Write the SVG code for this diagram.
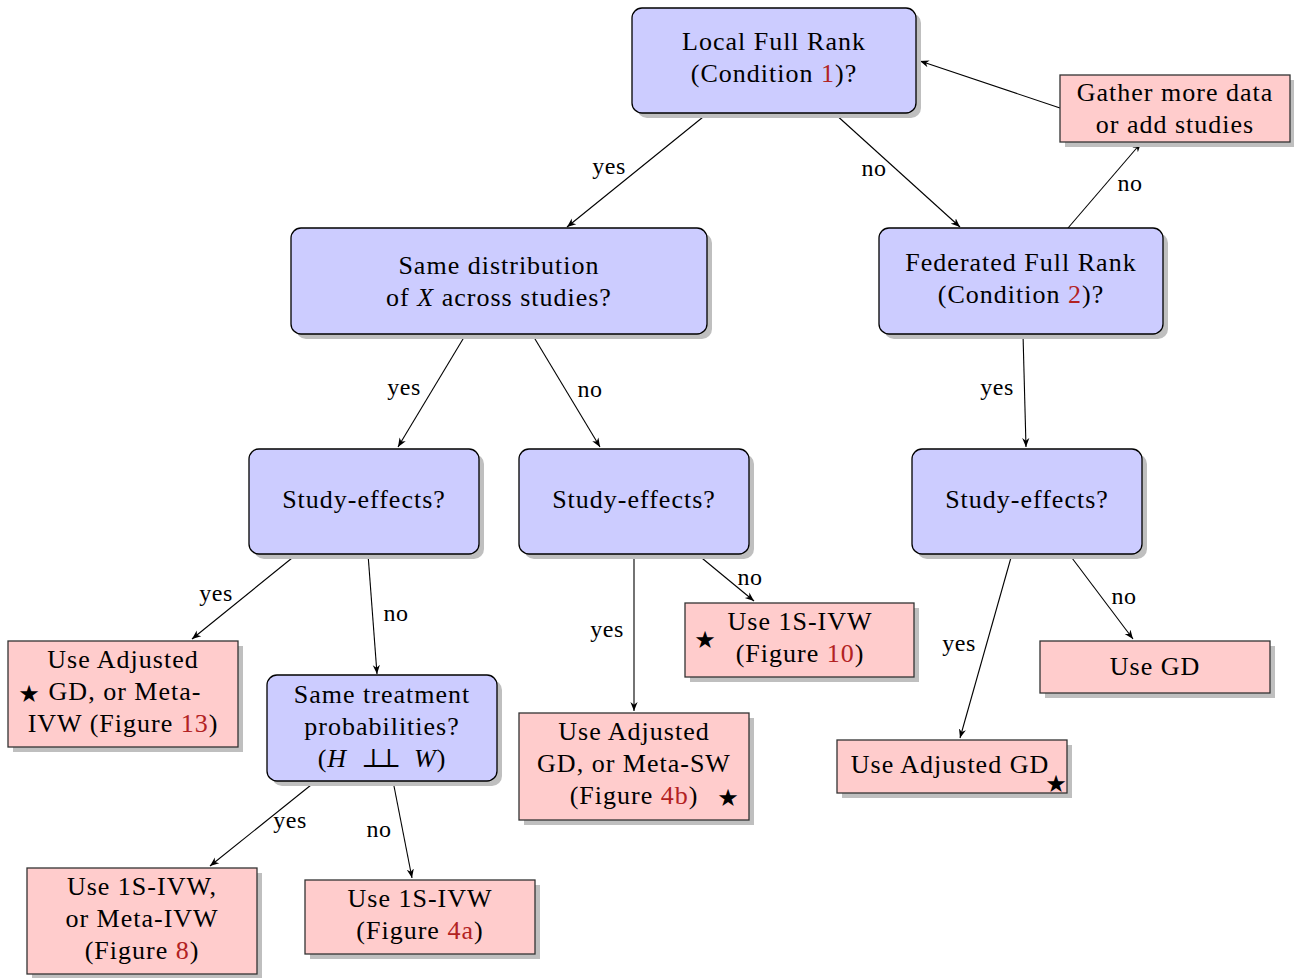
<svg xmlns="http://www.w3.org/2000/svg" width="1294" height="978" viewBox="0 0 1294 978">
<defs>
<style>
.t{font-family:"Liberation Serif","DejaVu Serif",serif;font-size:26px;fill:#000;text-anchor:middle;letter-spacing:1px}
.r{fill:#b22222}
.i{font-style:italic}
.q{fill:#ccccff;stroke:#000;stroke-width:1.3}
.p{fill:#ffcccc;stroke:#333;stroke-width:1.3}
.s{fill:#bfbfbf}
.e{fill:none;stroke:#000;stroke-width:1.1;marker-end:url(#a)}
.l{font-family:"Liberation Serif","DejaVu Serif",serif;font-size:24px;fill:#000;text-anchor:middle;letter-spacing:0.5px}
.st{font-family:"DejaVu Sans",sans-serif;font-size:24px;text-anchor:middle;fill:#000}
</style>
<marker id="a" viewBox="0 0 10 10" refX="10" refY="5" markerWidth="9" markerHeight="9" markerUnits="userSpaceOnUse" orient="auto">
<path d="M0,1 L10,5 L0,9 L3,5 Z" fill="#000"/>
</marker>
</defs>
<rect width="1294" height="978" fill="#fff"/>

<g id="connectors">
<line class="e" x1="708" y1="113" x2="567" y2="227"/>
<text class="l" x="609" y="174">yes</text>
<line class="e" x1="834" y1="113" x2="960" y2="227"/>
<text class="l" x="874" y="176">no</text>
<line class="e" x1="1060" y1="108" x2="920" y2="61"/>
<line class="e" x1="1068" y1="228" x2="1141" y2="143"/>
<text class="l" x="1130" y="191">no</text>
<line class="e" x1="466" y1="334" x2="398" y2="447"/>
<text class="l" x="404" y="395">yes</text>
<line class="e" x1="532" y1="334" x2="600" y2="447"/>
<text class="l" x="590" y="397">no</text>
<line class="e" x1="1023" y1="334" x2="1026" y2="447"/>
<text class="l" x="997" y="395">yes</text>
<line class="e" x1="297" y1="554" x2="192" y2="639"/>
<text class="l" x="216" y="601">yes</text>
<line class="e" x1="368" y1="554" x2="377" y2="674"/>
<text class="l" x="396" y="621">no</text>
<line class="e" x1="634" y1="554" x2="634" y2="711"/>
<text class="l" x="607" y="637">yes</text>
<line class="e" x1="697" y1="554" x2="754" y2="601"/>
<text class="l" x="750" y="585">no</text>
<line class="e" x1="1012" y1="554" x2="960" y2="738"/>
<text class="l" x="959" y="651">yes</text>
<line class="e" x1="1069" y1="554" x2="1133" y2="639"/>
<text class="l" x="1124" y="604">no</text>
<line class="e" x1="316" y1="781" x2="210" y2="866"/>
<text class="l" x="290" y="828">yes</text>
<line class="e" x1="393" y1="781" x2="412" y2="878"/>
<text class="l" x="379" y="837">no</text>
</g>

<g id="n-local">
<rect class="s" x="637" y="13" width="284" height="105" rx="10"/>
<rect class="q" x="632" y="8" width="284" height="105" rx="10"/>
<text class="t" x="774" y="50">Local Full Rank</text>
<text class="t" x="774" y="82">(Condition <tspan class="r">1</tspan>)?</text>
</g>

<g id="n-gather">
<rect class="s" x="1065" y="80" width="230" height="67"/>
<rect class="p" x="1060" y="75" width="230" height="67"/>
<text class="t" x="1175" y="101">Gather more data</text>
<text class="t" x="1175" y="133">or add studies</text>
</g>

<g id="n-samedist">
<rect class="s" x="296" y="233" width="416" height="106" rx="10"/>
<rect class="q" x="291" y="228" width="416" height="106" rx="10"/>
<text class="t" x="499" y="274">Same distribution</text>
<text class="t" x="499" y="306">of <tspan class="i">X</tspan> across studies?</text>
</g>

<g id="n-federated">
<rect class="s" x="884" y="233" width="284" height="106" rx="10"/>
<rect class="q" x="879" y="228" width="284" height="106" rx="10"/>
<text class="t" x="1021" y="271">Federated Full Rank</text>
<text class="t" x="1021" y="303">(Condition <tspan class="r">2</tspan>)?</text>
</g>

<g id="n-study-left">
<rect class="s" x="254" y="454" width="230" height="105" rx="10"/>
<rect class="q" x="249" y="449" width="230" height="105" rx="10"/>
<text class="t" x="364" y="508">Study-effects?</text>
</g>

<g id="n-study-mid">
<rect class="s" x="524" y="454" width="230" height="105" rx="10"/>
<rect class="q" x="519" y="449" width="230" height="105" rx="10"/>
<text class="t" x="634" y="508">Study-effects?</text>
</g>

<g id="n-study-right">
<rect class="s" x="917" y="454" width="230" height="105" rx="10"/>
<rect class="q" x="912" y="449" width="230" height="105" rx="10"/>
<text class="t" x="1027" y="508">Study-effects?</text>
</g>

<g id="n-treatment">
<rect class="s" x="272" y="680" width="230" height="106" rx="10"/>
<rect class="q" x="267" y="675" width="230" height="106" rx="10"/>
<text class="t" x="382" y="703">Same treatment</text>
<text class="t" x="382" y="735">probabilities?</text>
<text class="t" x="382" y="767">(<tspan class="i">H</tspan><tspan dx="14" letter-spacing="-9">⊥⊥</tspan><tspan class="i" dx="22">W</tspan>)</text>
</g>

<g id="n-adj-meta-ivw">
<rect class="s" x="13" y="646" width="230" height="106"/>
<rect class="p" x="8" y="641" width="230" height="106"/>
<text class="t" x="123" y="668">Use Adjusted</text>
<text class="t" x="125" y="700">GD, or Meta-</text>
<text class="t" x="123" y="732">IVW (Figure <tspan class="r">13</tspan>)</text>
<text class="st" x="29" y="702">★</text>
</g>

<g id="n-1sivw-10">
<rect class="s" x="690" y="608" width="229" height="74"/>
<rect class="p" x="685" y="603" width="229" height="74"/>
<text class="t" x="800" y="630">Use 1S-IVW</text>
<text class="t" x="800" y="662">(Figure <tspan class="r">10</tspan>)</text>
<text class="st" x="705" y="648">★</text>
</g>

<g id="n-gd">
<rect class="s" x="1045" y="646" width="230" height="52"/>
<rect class="p" x="1040" y="641" width="230" height="52"/>
<text class="t" x="1155" y="675">Use GD</text>
</g>

<g id="n-adj-gd">
<rect class="s" x="842" y="745" width="230" height="53"/>
<rect class="p" x="837" y="740" width="230" height="53"/>
<text class="t" x="950" y="773">Use Adjusted GD</text>
<text class="st" x="1056" y="792">★</text>
</g>

<g id="n-adj-meta-sw">
<rect class="s" x="524" y="718" width="230" height="107"/>
<rect class="p" x="519" y="713" width="230" height="107"/>
<text class="t" x="634" y="740">Use Adjusted</text>
<text class="t" x="634" y="772">GD, or Meta-SW</text>
<text class="t" x="634" y="804">(Figure <tspan class="r">4b</tspan>)</text>
<text class="st" x="728" y="806">★</text>
</g>

<g id="n-1sivw-meta">
<rect class="s" x="32" y="873" width="230" height="106"/>
<rect class="p" x="27" y="868" width="230" height="106"/>
<text class="t" x="142" y="895">Use 1S-IVW,</text>
<text class="t" x="142" y="927">or Meta-IVW</text>
<text class="t" x="142" y="959">(Figure <tspan class="r">8</tspan>)</text>
</g>

<g id="n-1sivw-4a">
<rect class="s" x="310" y="885" width="230" height="74"/>
<rect class="p" x="305" y="880" width="230" height="74"/>
<text class="t" x="420" y="907">Use 1S-IVW</text>
<text class="t" x="420" y="939">(Figure <tspan class="r">4a</tspan>)</text>
</g>
</svg>
